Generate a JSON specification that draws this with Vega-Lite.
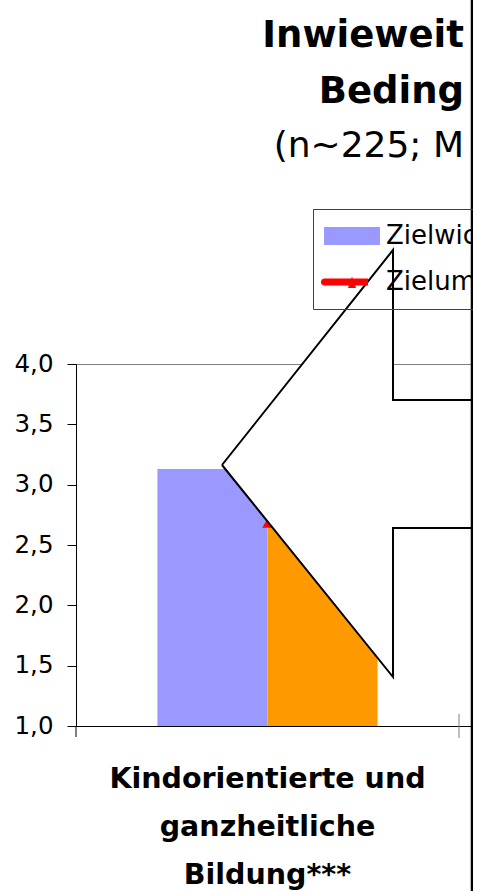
{
  "$schema": "https://vega.github.io/schema/vega-lite/v6.json",
  "width": 397,
  "height": 362,
  "autosize": {"type": "none"},
  "padding": {"left": 76, "top": 364, "right": 0, "bottom": 165},
  "background": "white",
  "config": {
    "view": {"stroke": "#808080", "strokeWidth": 1},
    "font": "DejaVu Sans",
    "locale": {"number": {"decimal": ",", "thousands": ".", "grouping": [3], "currency": ["", " €"]}}
  },
  "title": {
    "text": ["Inwieweit", "Beding"],
    "subtitle": "(n~225; M",
    "anchor": "end",
    "frame": "group",
    "orient": "top",
    "offset": -176,
    "dx": -9,
    "font": "DejaVu Sans",
    "fontSize": 37,
    "fontWeight": "bold",
    "color": "black",
    "lineHeight": 56,
    "subtitleFont": "DejaVu Sans",
    "subtitleFontSize": 36,
    "subtitleFontWeight": "normal",
    "subtitleColor": "black",
    "subtitlePadding": 18
  },
  "datasets": {
    "balken": [
      {"bereich": "Kindorientierte und ganzheitliche Bildung***", "reihe": "Zielwichtigkeit", "wert": 3.13},
      {"bereich": "Kindorientierte und ganzheitliche Bildung***", "reihe": "Zielerreichung", "wert": 2.9}
    ],
    "linie": [
      {"bereich": "Kindorientierte und ganzheitliche Bildung***", "reihe": "Zielumsetzung", "wert": 2.68}
    ],
    "pfeil": [
      {"punkt": 0, "x": 0.3812, "y": 3.163},
      {"punkt": 1, "x": 0.8277, "y": 4.945},
      {"punkt": 2, "x": 0.8277, "y": 3.702},
      {"punkt": 3, "x": 1.06, "y": 3.702},
      {"punkt": 4, "x": 1.06, "y": 2.641},
      {"punkt": 5, "x": 0.8277, "y": 2.641},
      {"punkt": 6, "x": 0.8277, "y": 1.406},
      {"punkt": 7, "x": 0.3812, "y": 3.163}
    ],
    "grenzen": [
      {"x": 0, "oben": 1.0, "unten": 0.909, "farbe": "schwarz"},
      {"x": 1, "oben": 1.1, "unten": 0.9, "farbe": "grau"}
    ],
    "rand": [{"x": 1.0339, "oben": 7.1, "unten": -0.45}]
  },
  "layer": [
    {
      "data": {"name": "balken"},
      "mark": {"type": "bar"},
      "encoding": {
        "x": {
          "field": "bereich", "type": "nominal",
          "scale": {"type": "band", "paddingInner": 0, "paddingOuter": 0.01828, "align": 0},
          "axis": {
            "title": null, "ticks": false,
            "domainColor": "black", "domainWidth": 1,
            "labelExpr": "split(replace(datum.label, ' ganzheitliche ', '|ganzheitliche|'), '|')",
            "labelFont": "DejaVu Sans", "labelFontWeight": "bold", "labelFontSize": 28.5,
            "labelLineHeight": 48, "labelPadding": 38.5, "labelAngle": 0, "labelColor": "black",
            "labelLimit": 1000, "labelBaseline": "top"
          }
        },
        "xOffset": {
          "field": "reihe", "type": "nominal",
          "scale": {"domain": ["Zielwichtigkeit", "Zielerreichung"], "paddingInner": 0, "paddingOuter": 0.74}
        },
        "y": {
          "field": "wert", "type": "quantitative",
          "scale": {"domain": [1, 4], "nice": false, "zero": false},
          "axis": {
            "orient": "left",
            "title": null, "values": [1, 1.5, 2, 2.5, 3, 3.5, 4], "grid": false, "format": ".1f",
            "tickSize": 9, "tickColor": "black", "tickWidth": 1, "domainColor": "black", "domainWidth": 1,
            "labelFont": "DejaVu Sans", "labelFontSize": 24.5, "labelColor": "black", "labelPadding": 14
          }
        },
        "y2": {"datum": 1},
        "color": {
          "field": "reihe", "type": "nominal",
          "scale": {"domain": ["Zielwichtigkeit", "Zielerreichung", "Zielumsetzung"], "range": ["#9999ff", "#ff9900", "#ff0000"]},
          "legend": {
            "title": null, "orient": "none", "legendX": 237, "legendY": -155,
            "values": ["Zielwichtigkeit", "Zielumsetzung"],
            "padding": 14, "strokeColor": "#404040",
            "symbolSize": 400, "symbolOffset": 12, "labelOffset": 21, "rowPadding": 20,
            "symbolStrokeWidth": 0,
            "labelFont": "DejaVu Sans", "labelFontSize": 26, "labelColor": "black", "labelLimit": 1000,
            "direction": "vertical"
          }
        }
      }
    },
    {
      "data": {"name": "linie"},
      "mark": {"type": "point", "shape": "triangle-up", "filled": true, "size": 110, "opacity": 1},
      "encoding": {
        "x": {"field": "bereich", "type": "nominal", "scale": {"type": "band", "paddingInner": 0, "paddingOuter": 0.01828, "align": 0}, "axis": null},
        "y": {"field": "wert", "type": "quantitative", "scale": {"domain": [1, 4], "nice": false, "zero": false}, "axis": null},
        "color": {"field": "reihe", "type": "nominal"}
      }
    },
    {
      "data": {"values": []},
      "mark": {"type": "point", "filled": true, "opacity": 1},
      "encoding": {
        "x": {"field": "bereich", "type": "nominal", "axis": null},
        "y": {"field": "wert", "type": "quantitative", "scale": {"domain": [1, 4], "nice": false, "zero": false}, "axis": null},
        "color": {"field": "reihe", "type": "nominal"},
        "shape": {
          "field": "reihe", "type": "nominal",
          "scale": {
            "domain": ["Zielwichtigkeit", "Zielerreichung", "Zielumsetzung"],
            "range": [
              "M-2.8,-0.9H2.8V0.9H-2.8Z",
              "M-2.8,-0.9H2.8V0.9H-2.8Z",
              "M-2.75,-0.36H1.6V0.36H-2.75A0.36,0.36 0 0 1 -2.75,-0.36Z M-0.4,0.6L0,-0.55L0.4,0.6Z"
            ]
          }
        }
      }
    },
    {
      "data": {"name": "pfeil"},
      "mark": {"type": "line", "fill": "white", "stroke": "black", "strokeWidth": 2, "strokeJoin": "miter", "interpolate": "linear"},
      "encoding": {
        "x": {"field": "x", "type": "quantitative", "scale": {"domain": [0, 1.03655], "nice": false, "zero": false}, "axis": null},
        "y": {"field": "y", "type": "quantitative", "scale": {"domain": [1, 4], "nice": false, "zero": false}, "axis": null},
        "order": {"field": "punkt", "type": "quantitative"}
      }
    },
    {
      "data": {"name": "grenzen"},
      "mark": {"type": "rule", "strokeWidth": 1},
      "encoding": {
        "x": {"field": "x", "type": "quantitative", "scale": {"domain": [0, 1.03655], "nice": false, "zero": false}, "axis": null},
        "y": {"field": "oben", "type": "quantitative", "scale": {"domain": [1, 4], "nice": false, "zero": false}, "axis": null},
        "y2": {"field": "unten"},
        "stroke": {"field": "farbe", "type": "nominal", "scale": {"domain": ["schwarz", "grau"], "range": ["#000000", "#808080"]}, "legend": null}
      }
    },
    {
      "data": {"name": "rand"},
      "mark": {"type": "rule", "color": "black", "strokeWidth": 2.5},
      "encoding": {
        "x": {"field": "x", "type": "quantitative", "scale": {"domain": [0, 1.03655], "nice": false, "zero": false}, "axis": null},
        "y": {"field": "oben", "type": "quantitative", "scale": {"domain": [1, 4], "nice": false, "zero": false}, "axis": null},
        "y2": {"field": "unten"}
      }
    }
  ],
  "resolve": {"scale": {"x": "independent"}, "axis": {"y": "independent"}}
}
